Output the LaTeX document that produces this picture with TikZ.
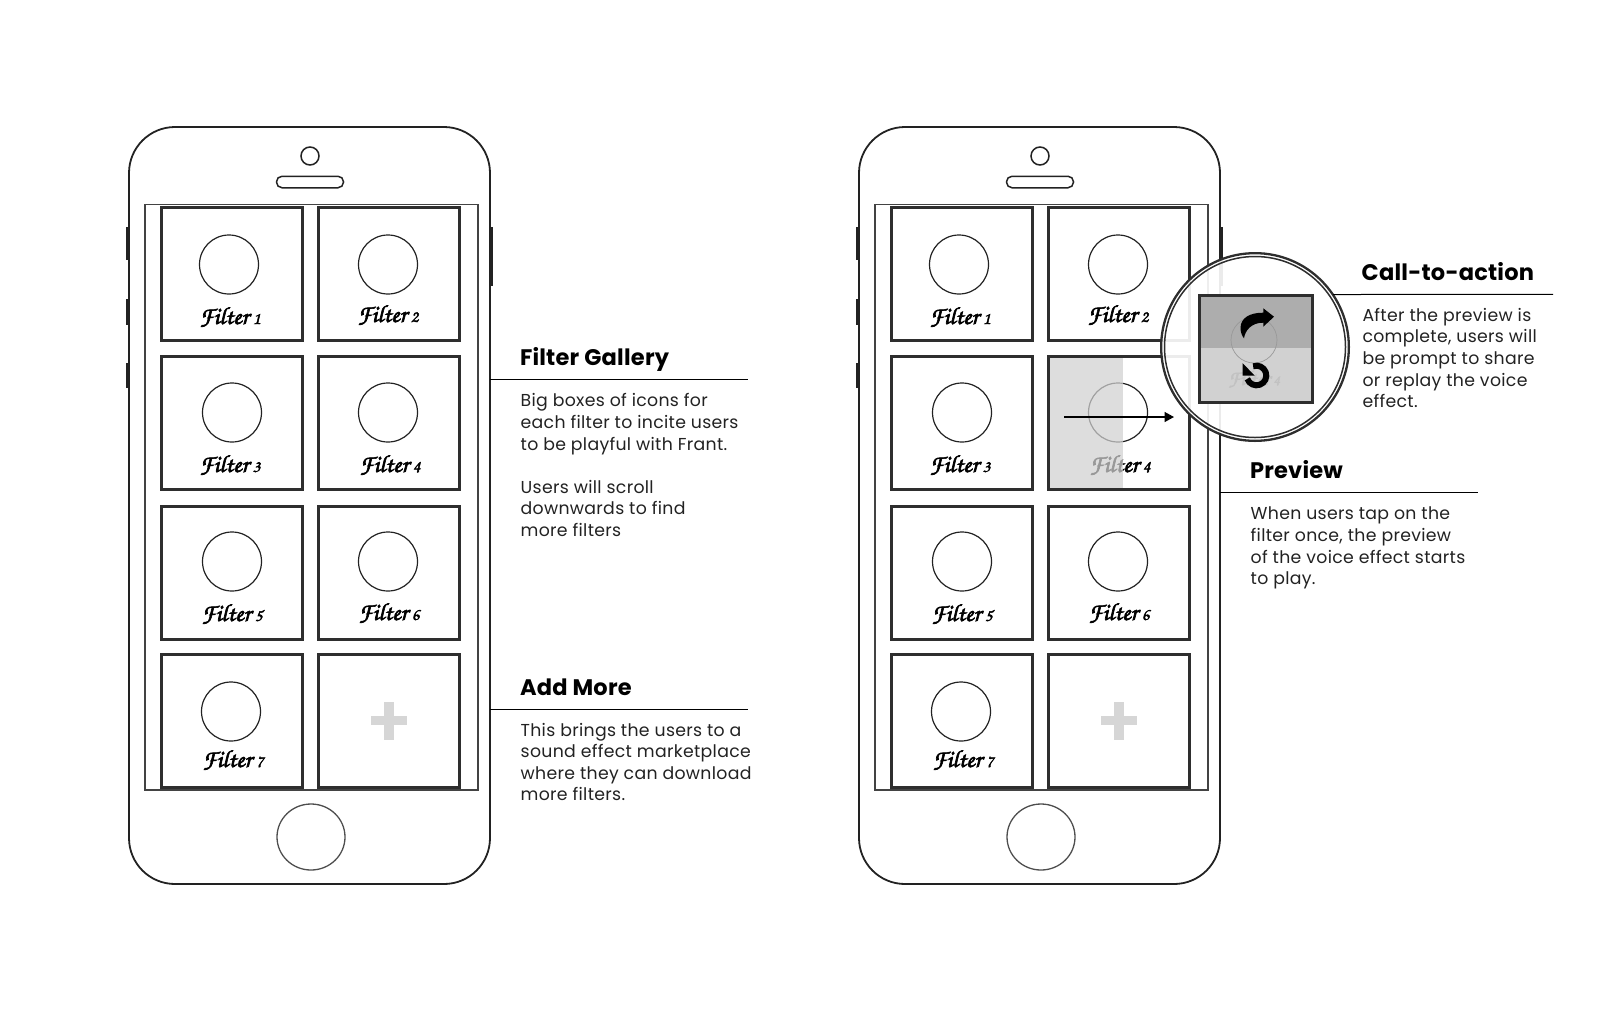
\documentclass[tikz,border=0pt]{standalone}
\usepackage{fontspec}
\usetikzlibrary{arrows.meta,shapes.geometric}
\setmainfont{Poppins}
\newfontfamily\scriptf[FakeBold=2.6]{texgyrechorus-mediumitalic.otf}
\definecolor{ink}{HTML}{222222}
\definecolor{boxc}{HTML}{2E2E2E}
\newcommand{\flabel}[1]{{\scriptf\fontsize{24.5}{27}\selectfont Filter\,{\fontsize{17}{17}\selectfont #1}}}
\tikzset{
  every node/.style={inner sep=0pt,outer sep=0pt},
  phonebody/.style={draw=ink,line width=1.8pt,rounded corners=46pt,minimum width=361pt,minimum height=757pt},
  screenbox/.style={draw=ink!85,line width=1.8pt,minimum width=333pt,minimum height=585.5pt},
  tile/.style={draw=boxc,line width=3pt,minimum width=141pt,minimum height=133pt},
  icon/.style={circle,draw=ink,line width=1.2pt,minimum size=59pt},
  cam/.style={circle,draw=ink,line width=1.5pt,minimum size=18pt},
  speaker/.style={draw=ink,line width=1.5pt,rounded corners=5.5pt,minimum width=67pt,minimum height=11.5pt},
  homekey/.style={ellipse,draw=ink!80,line width=1.3pt,minimum width=68pt,minimum height=66pt},
  sidekey/.style={fill=ink,minimum width=3pt},
  flab/.style={anchor=base,text=black},
  head/.style={anchor=base west,font=\fontsize{22.5}{26}\selectfont\bfseries\addfontfeatures{LetterSpace=1},text=black},
  body/.style={anchor=north west,align=left,font=\fontsize{17.3}{21.6}\selectfont\addfontfeatures{LetterSpace=1.8},text=ink},
  leader/.style={draw=black,line width=1pt},
  ringo/.style={circle,draw=boxc,line width=2.3pt,minimum size=187.7pt,fill=white,fill opacity=.91},
  ringi/.style={circle,draw=boxc,line width=1.5pt,minimum size=181pt},
}
\newcommand{\phonedraw}[1]{%
  \node[sidekey,minimum height=33pt] (#1k1) at (127.5,243.5) {};
  \node[sidekey,minimum height=26pt] (#1k2) at (127.5,312) {};
  \node[sidekey,minimum height=25pt] (#1k3) at (127.5,375.5) {};
  \node[sidekey,minimum height=59pt] (#1k4) at (491.5,256.5) {};
  \node[phonebody] (#1body) at (309.5,505.5) {};
  \node[cam] (#1cam) at (310,156) {};
  \node[speaker] (#1spk) at (310,182) {};
  \node[homekey] (#1home) at (311,837) {};
  \node[screenbox] (#1scr) at (311.5,497.2) {};
  \node[tile] (#1t1) at (232,274) {};
  \node[tile] (#1t2) at (389,274) {};
  \node[tile] (#1t3) at (232,423) {};
  \node[tile] (#1t4) at (389,423) {};
  \node[tile] (#1t5) at (232,572.5) {};
  \node[tile] (#1t6) at (389,572.5) {};
  \node[tile] (#1t7) at (232,721) {};
  \node[tile] (#1t8) at (389,721) {};
  \node[icon] (#1c1) at (229,264.5) {};
  \node[icon] (#1c2) at (388,264.5) {};
  \node[icon] (#1c3) at (232,412.5) {};
  \node[icon] (#1c4) at (388,412.5) {};
  \node[icon] (#1c5) at (232,561.5) {};
  \node[icon] (#1c6) at (388,561.5) {};
  \node[icon] (#1c7) at (231,711.5) {};
  \node[flab] (#1l1) at (230,324) {\flabel{1}};
  \node[flab] (#1l2) at (388,322) {\flabel{2}};
  \node[flab] (#1l3) at (230,472) {\flabel{3}};
  \node[flab] (#1l4) at (390,472) {\flabel{4}};
  \node[flab] (#1l5) at (232,621) {\flabel{5}};
  \node[flab] (#1l6) at (389,620) {\flabel{6}};
  \node[flab] (#1l7) at (233,767) {\flabel{7}};
  \fill[black!16] (384,702) rectangle (394,740);
  \fill[black!16] (371,716) rectangle (407,725);
}
\begin{document}
\begin{tikzpicture}[x=1pt,y=-1pt]
\useasboundingbox (0,0) rectangle (1614,1026);
\begin{scope}\phonedraw{a}\end{scope}
\begin{scope}[xshift=730pt]\phonedraw{b}\end{scope}
% filter 4 being previewed
\fill[black!18,opacity=.73] (1048.5,356.5) rectangle (1122.7,489.5);
\node[tile] (btfour) at (1119,423) {};
\coordinate (swS) at (1064,417);
\coordinate (swE) at (1174,417);
\draw[line width=1.5pt,black,-{Triangle[length=9.5pt,width=10pt]}] (swS) -- (swE);
% left captions
\coordinate (fgE) at (748,379);
\coordinate (amE) at (748,709);
\draw[leader] (abody.east |- fgE) -- (fgE);
\draw[leader] (abody.east |- amE) -- (amE);
\node[head] (fgH) at (520,365) {Filter Gallery};
\node[body] (fgB) at (520.7,393.7) {Big boxes of icons for\\each filter to incite users\\to be playful with Frant.\\[21.6pt]Users will scroll\\downwards to find\\more filters};
\node[head] (amH) at (520,695) {Add More};
\node[body] (amB) at (520.7,723) {This brings the users to a\\sound effect marketplace\\where they can download\\more filters.};
% magnifier
\coordinate (prE) at (1478,492);
\draw[leader] (bbody.east |- prE) -- (prE);
\node[head] (prH) at (1250,478) {Preview};
\node[body] (prB) at (1250.7,507) {When users tap on the\\filter once, the preview\\of the voice effect starts\\to play.};
\node[ringo] (ring) at (1255,347) {};
\node[ringi] (ringin) at (1255,347) {};
\coordinate (ctE) at (1553,294.3);
\draw[leader] (ring.34) -- (ctE);
\node[head] (ctH) at (1361.7,280.7) {Call-to-action};
\node[body] (ctB) at (1362.5,308) {After the preview is\\complete, users will\\be prompt to share\\or replay the voice\\effect.};
\fill[black!32] (1199,295) rectangle (1312,348);
\fill[black!18] (1199,348) rectangle (1312,402);
\node[circle,draw=black!40,line width=.7pt,minimum size=46pt] (gc) at (1254,340) {};
\node[flab,text=black!24,scale=.85] (gl) at (1254,385) {\flabel{4}};
\node[draw=boxc,line width=3pt,minimum width=113pt,minimum height=107pt] (sq) at (1255.5,348.5) {};
% share icon
\fill[black] (1274,316.7) -- (1263.3,308.3) -- (1263.3,312.7) .. controls (1250,312.5) and (1240.5,318) .. (1240.5,328) .. controls (1240.5,332) and (1242,336) .. (1244,338.3) .. controls (1245,331) and (1251,322.5) .. (1263.3,322.7) -- (1263.3,326.7) -- cycle;
% replay icon
\coordinate (rp) at (1256.5,375.5);
\draw[black,line width=6pt] (rp) ++(-110:9.8) arc[start angle=-110,end angle=160,radius=9.8];
\fill[black] (1242.5,363) -- (1242.5,375.5) -- (1254.5,375.5) -- cycle;
\end{tikzpicture}
\end{document}
